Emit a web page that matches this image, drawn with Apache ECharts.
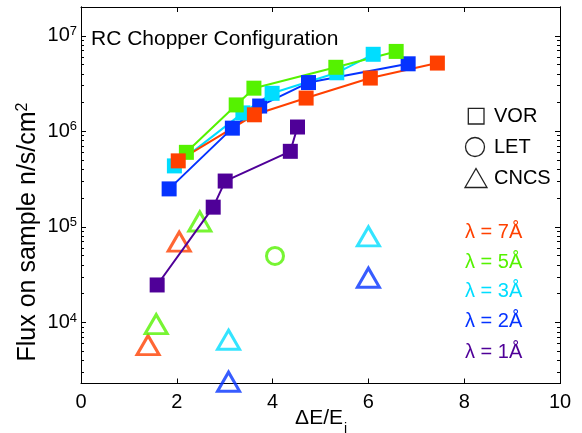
<!DOCTYPE html>
<html>
<head>
<meta charset="utf-8">
<script src="https://cdn.jsdelivr.net/npm/echarts@6/dist/echarts.min.js"></script>
<style>html,body{margin:0;padding:0;background:#fff;}#c{width:582px;height:433px;}</style>
</head>
<body>
<div id="c"></div>
<script>
// ---- data (ΔE/Ei, flux n/s/cm^2) ----
const vor7 = [[2.03,4.91e5],[3.62,1.49e6],[4.70,2.23e6],[6.04,3.61e6],[7.44,5.18e6]];
const vor5 = [[2.20,6.03e5],[3.24,1.89e6],[3.61,2.83e6],[5.32,4.68e6],[6.58,6.86e6]];
const vor3 = [[1.95,4.35e5],[3.38,1.56e6],[3.99,2.50e6],[5.34,4.10e6],[6.10,6.40e6]];
const vor2 = [[1.84,2.50e5],[3.16,1.08e6],[3.73,1.84e6],[4.75,3.24e6],[6.83,5.09e6]];
const vor1 = [[1.59,2.47e4],[2.76,1.61e5],[3.01,3.02e5],[4.37,6.18e5],[4.52,1.11e6]];
const cncs7 = [[2.05,7.0e4],[1.40,5.8e3]];
const cncs5 = [[2.48,1.14e5],[1.57,9.6e3]];
const cncs3 = [[6.00,7.96e4],[3.08,6.6e3]];
const cncs2 = [[6.00,2.94e4],[3.08,2.4e3]];
const let5 = [[4.05,4.97e4]];
const xTicks = [0,2,4,6,8,10];
const yMajor = [1e4,1e5,1e6,1e7];
const yMin = 2300, yMax = 2e7;
const lambdaLabels = ['λ = 7Å','λ = 5Å','λ = 3Å','λ = 2Å','λ = 1Å'];

const C7='#FF4000', C5='#55F200', C3='#00DDFF', C2='#0533FF', C1='#4F0098';
const FONT = '"Liberation Sans", Arial, Helvetica, sans-serif';
const L = Math.log10;
const tr = arr => arr.map(p => [p[0], L(p[1])]);

const yMinor = [];
for (let n = 3; n <= 7; n++) for (let k = 2; k <= 9; k++) { const v = k*Math.pow(10,n); if (v > yMin && v < yMax) yMinor.push(L(v)); }

const axLine = {show:true,onZero:false,lineStyle:{color:'#000',width:1}};
function yAx(pos, ticks, len, labels){
  return {type:'value',min:L(yMin),max:L(yMax),position:pos,
    axisLine:axLine, splitLine:{show:false},
    axisTick:{show:true,inside:true,length:len,customValues:ticks,lineStyle:{color:'#000',width:1}},
    axisLabel: labels ? {show:true,customValues:yMajor.map(L),margin:4,color:'#000',fontFamily:FONT,
      formatter:v=>'{b|10}{s|'+Math.round(v)+'}',
      rich:{b:{fontSize:20,fontFamily:FONT,color:'#000',lineHeight:22},s:{fontSize:13,fontFamily:FONT,color:'#000',verticalAlign:'top',lineHeight:13}}} : {show:false}
  };
}
function xAx(pos, labels){
  return {type:'value',min:0,max:10,interval:2,position:pos,axisLine:axLine,splitLine:{show:false},
    axisTick:{show:true,inside:true,length:5,lineStyle:{color:'#000',width:1}},
    axisLabel: labels ? {show:true,color:'#000',fontSize:20,fontFamily:FONT,margin:9,customValues:xTicks} : {show:false}};
}
function vor(name, data, color){
  return {type:'line',name,data:tr(data),symbol:'rect',symbolSize:15,clip:false,
    lineStyle:{color,width:2},itemStyle:{color,borderWidth:0}};
}
function tri(name, data, color){
  return {type:'scatter',name,data:tr(data),symbol:'triangle',symbolSize:[22,19],clip:false,
    itemStyle:{color:'rgba(0,0,0,0)',borderColor:color,borderWidth:3}};
}

const lamColors=[C7,C5,C3,C2,C1];
const lamY=[232,262,291,321,352];
const graphics = [
  {type:'text',left:91,top:29,style:{text:'RC Chopper Configuration',fontSize:21,fontFamily:FONT,fill:'#000'}},
  {type:'rect',shape:{x:468.3,y:108.3,width:15.7,height:15.7},style:{fill:'none',stroke:'#222',lineWidth:1.3}},
  {type:'circle',shape:{cx:475,cy:147,r:9.5},style:{fill:'none',stroke:'#222',lineWidth:1.3}},
  {type:'polygon',shape:{points:[[465,187.5],[487,187.5],[476,168.5]]},style:{fill:'none',stroke:'#222',lineWidth:1.3}},
  {type:'text',x:494,y:116,style:{text:'VOR',fontSize:20,fontFamily:FONT,fill:'#000',verticalAlign:'middle'}},
  {type:'text',x:494,y:147,style:{text:'LET',fontSize:20,fontFamily:FONT,fill:'#000',verticalAlign:'middle'}},
  {type:'text',x:494,y:178,style:{text:'CNCS',fontSize:20,fontFamily:FONT,fill:'#000',verticalAlign:'middle'}},
  {type:'text',x:28,y:232,rotation:Math.PI/2,style:{text:'{a|Flux on sample n/s/cm}{s|2}',align:'center',verticalAlign:'middle',
     rich:{a:{fontSize:25,fontFamily:FONT,fill:'#000',lineHeight:27},s:{fontSize:16,fontFamily:FONT,fill:'#000',verticalAlign:'top',lineHeight:16}}}},
  {type:'text',x:343,y:418,style:{text:'ΔE/E',align:'right',verticalAlign:'middle',fontSize:21,fontFamily:FONT,fill:'#000'}},
  {type:'text',x:344,y:429,style:{text:'i',align:'left',verticalAlign:'middle',fontSize:14,fontFamily:FONT,fill:'#000'}}
];
lambdaLabels.forEach((t,i)=>graphics.push({type:'text',x:465,y:lamY[i],style:{text:t,fontSize:20,fontFamily:FONT,fill:lamColors[i],verticalAlign:'middle'}}));

const chart = echarts.init(document.getElementById('c'), null, {renderer:'canvas'});
chart.setOption({
  animation:false,
  backgroundColor:'#fff',
  grid:{left:81,right:22,top:7,bottom:49.5},
  xAxis:[xAx('bottom',true), xAx('top',false)],
  yAxis:[yAx('left',yMajor.map(L),5,true), yAx('left',yMinor,3,false), yAx('right',yMajor.map(L),5,false), yAx('right',yMinor,3,false)],
  series:[
    vor('VOR 1Å',vor1,C1), vor('VOR 2Å',vor2,C2), vor('VOR 3Å',vor3,C3), vor('VOR 5Å',vor5,C5), vor('VOR 7Å',vor7,C7),
    tri('CNCS 7Å',cncs7,C7), tri('CNCS 5Å',cncs5,C5), tri('CNCS 3Å',cncs3,C3), tri('CNCS 2Å',cncs2,C2),
    {type:'scatter',name:'LET 5Å',data:tr(let5),symbol:'circle',symbolSize:17,clip:false,itemStyle:{color:'rgba(0,0,0,0)',borderColor:C5,borderWidth:3}}
  ],
  graphic:graphics
});
</script>
</body>
</html>
